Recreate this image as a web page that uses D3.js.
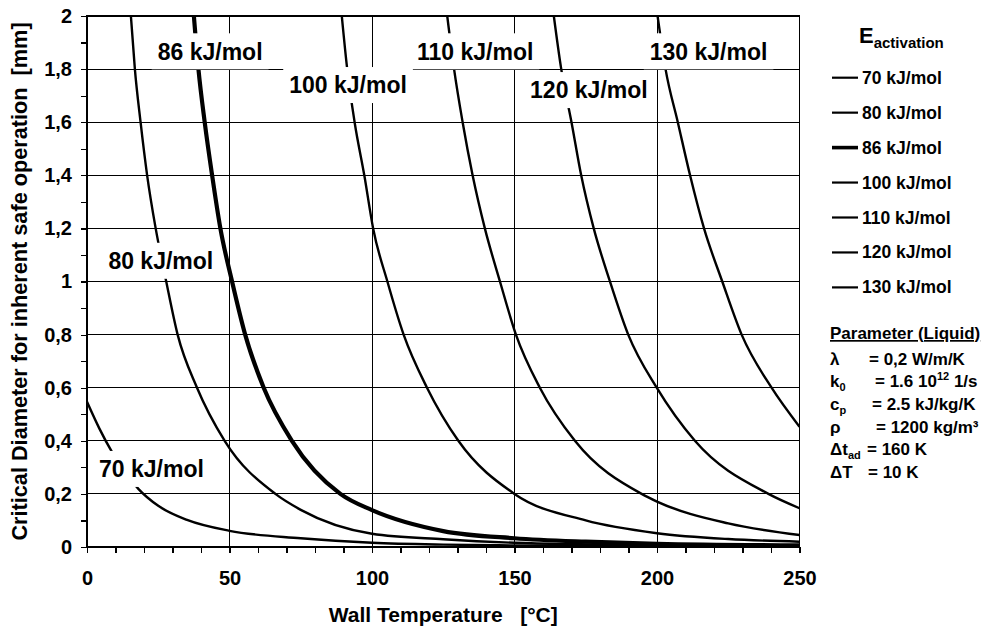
<!DOCTYPE html>
<html><head><meta charset="utf-8">
<script src="https://cdn.jsdelivr.net/npm/d3@7"></script>
<style>
body{margin:0;background:#fff}
text{font-family:"Liberation Sans",Arial,Helvetica,sans-serif;font-weight:bold;fill:#000}
</style>
</head><body>
<svg id="chart" width="987" height="630"></svg>
<script>
// ---------- data ----------
const energies = ["70 kJ/mol","80 kJ/mol","86 kJ/mol","100 kJ/mol","110 kJ/mol","120 kJ/mol","130 kJ/mol"];

const t70 = [0, 4.4, 8.8, 18.1, 25, 35.1, 50, 75, 100, 125, 150, 200, 250];
const d70 = [0.547, 0.445, 0.357, 0.218, 0.155, 0.102, 0.061, 0.033, 0.016, 0.009, 0.006, 0.003, 0.002];

const t80 = [15.4, 16.8, 18.8, 21.1, 24.1, 27.8, 31.8, 38.6, 48.3, 66.1, 75, 100, 125, 150, 200, 250];
const d80 = [2, 1.8, 1.6, 1.4, 1.2, 1.0, 0.8, 0.6, 0.4, 0.2, 0.14, 0.05, 0.029, 0.016, 0.007, 0.004];

const t86 = [37.5, 39.1, 41.3, 43.9, 46.8, 50.9, 55.5, 62, 71.9, 88.9, 100, 125, 150, 175, 200, 250];
const d86 = [2, 1.8, 1.6, 1.4, 1.2, 1.0, 0.8, 0.6, 0.4, 0.2, 0.139, 0.06, 0.033, 0.02, 0.012, 0.006];

const t100 = [89.4, 91.3, 93.9, 97.3, 100.4, 105.4, 111.1, 119.3, 130.3, 150, 175, 200, 225, 250];
const d100 = [2, 1.8, 1.6, 1.4, 1.2, 1.0, 0.8, 0.6, 0.4, 0.2, 0.1, 0.052, 0.03, 0.02];

const t110 = [126.4, 128.8, 131.8, 135.3, 139.6, 144.9, 150.5, 158.9, 171.2, 194.6, 200, 225, 250];
const d110 = [2, 1.8, 1.6, 1.4, 1.2, 1.0, 0.8, 0.6, 0.4, 0.2, 0.171, 0.089, 0.045];

const t120 = [163.8, 166.4, 170, 173.4, 177.8, 183.5, 189.9, 199.9, 213.3, 239.1, 250];
const d120 = [2, 1.8, 1.6, 1.4, 1.2, 1.0, 0.8, 0.6, 0.4, 0.2, 0.146];

const t130 = [200.2, 203, 207.3, 211.6, 216.5, 222.9, 229.7, 240.2, 250];
const d130 = [2, 1.8, 1.6, 1.4, 1.2, 1.0, 0.8, 0.6, 0.453];

const seriesT = [t70, t80, t86, t100, t110, t120, t130];
const seriesD = [d70, d80, d86, d100, d110, d120, d130];

const xTickValues = [0, 50, 100, 150, 200, 250];
const xTickLabels = ["0", "50", "100", "150", "200", "250"];
const yTickValues = [0, 0.2, 0.4, 0.6, 0.8, 1.0, 1.2, 1.4, 1.6, 1.8, 2.0];
const yTickLabels = ["0", "0,2", "0,4", "0,6", "0,8", "1", "1,2", "1,4", "1,6", "1,8", "2"];

const xTitle = "Wall Temperature   [°C]";
const yTitle = "Critical Diameter for inherent safe operation  [mm]";
const legendTitle = "E";
const legendTitleSub = "activation";

const paramHeader = "Parameter (Liquid)";
const paramSymbols = ["λ", "k", "c", "ρ", "Δt", "ΔT"];
const paramSubs = ["", "0", "p", "", "ad", ""];
const paramValues = ["= 0,2 W/m/K", "= 1.6 10", "= 2.5 kJ/kg/K", "= 1200 kg/m³", "= 160 K", "= 10 K"];
const paramSups = ["", "12", "", "", "", ""];
const paramTails = ["", " 1/s", "", "", "", ""];

// ---------- layout (positions of labels in chart coordinates) ----------
const labelAt = [[22.6, 0.294], [25.9, 1.078], [43.2, 1.867], [91.6, 1.74], [136.2, 1.867], [176.1, 1.721], [218.1, 1.867]];
const paramValueX = [869, 875, 872, 876, 867, 868];

// ---------- drawing ----------
const svg = d3.select("#chart");
const x = d3.scaleLinear().domain([0, 250]).range([87, 799.5]);
const y = d3.scaleLinear().domain([0, 2]).range([547, 16]);

svg.append("defs").append("clipPath").attr("id", "plotclip")
  .append("rect").attr("x", x(0)).attr("y", y(2)).attr("width", x(250) - x(0)).attr("height", y(0) - y(2));

// grid
const grid = svg.append("g").attr("stroke", "#000").attr("stroke-width", 1).attr("shape-rendering", "crispEdges");
grid.selectAll("line.v").data(xTickValues.filter(v => v > 0 && v < 250)).join("line").attr("class","v")
  .attr("x1", d => x(d)).attr("x2", d => x(d)).attr("y1", y(0)).attr("y2", y(2));
grid.selectAll("line.h").data(yTickValues.filter(v => v > 0 && v < 2)).join("line").attr("class","h")
  .attr("x1", x(0)).attr("x2", x(250)).attr("y1", d => y(d)).attr("y2", d => y(d));

// curves
const line = d3.line().x(p => x(p[0])).y(p => y(p[1])).curve(d3.curveMonotoneX);
const curves = svg.append("g").attr("clip-path", "url(#plotclip)");
seriesT.forEach((ts, i) => {
  const pts = ts.map((t, k) => [t, seriesD[i][k]]);
  curves.append("path").datum(pts).attr("d", line)
    .attr("fill", "none").attr("stroke", "#000")
    .attr("stroke-width", i === 2 ? 4.2 : 2.4).attr("stroke-linejoin", "round");
});

// curve labels with white boxes
const labFs = 23;
const labs = svg.append("g");
energies.forEach((e, i) => {
  const cx = x(labelAt[i][0]), cy = y(labelAt[i][1]);
  const g = labs.append("g");
  const rect = g.append("rect").attr("fill", "#fff");
  const t = g.append("text").attr("x", cx).attr("y", cy + labFs * 0.36)
    .attr("text-anchor", "middle").attr("font-size", labFs).text(e);
  const bb = t.node().getBBox();
  rect.attr("x", bb.x - 6).attr("y", cy - 18).attr("width", bb.width + 12).attr("height", 36);
});

// border
svg.append("rect").attr("x", x(0)).attr("y", y(2)).attr("width", x(250) - x(0)).attr("height", y(0) - y(2))
  .attr("fill", "none").attr("stroke", "#000").attr("stroke-width", 1.2).attr("shape-rendering", "crispEdges");

// axes
const xAxis = d3.axisBottom(x).tickValues(d3.range(0, 251, 10)).tickSize(6).tickSizeOuter(0).tickPadding(18)
  .tickFormat(d => { const k = xTickValues.indexOf(d); return k >= 0 ? xTickLabels[k] : ""; });
const gx = svg.append("g").attr("transform", `translate(0,${y(0)})`).call(xAxis);
const yAxis = d3.axisLeft(y).tickValues(d3.range(0, 21).map(k => k / 10)).tickSize(6).tickSizeOuter(0).tickPadding(9)
  .tickFormat(d => { const k = yTickValues.findIndex(v => Math.abs(v - d) < 1e-9); return k >= 0 ? yTickLabels[k] : ""; });
const gy = svg.append("g").attr("transform", `translate(${x(0)},0)`).call(yAxis);
[gx, gy].forEach(g => {
  g.selectAll("path,line").attr("stroke", "#000").attr("stroke-width", 1.2).attr("shape-rendering", "crispEdges");
  g.selectAll("text").attr("font-size", 20).attr("font-family", null).attr("fill", "#000");
});

// axis titles
svg.append("text").attr("x", (x(0) + x(250)) / 2).attr("y", 622).attr("text-anchor", "middle")
  .attr("font-size", 21).style("white-space", "pre").text(xTitle);
svg.append("text").attr("transform", `translate(27,${(y(0) + y(2)) / 2}) rotate(-90)`).attr("text-anchor", "middle")
  .attr("font-size", 21.7).style("white-space", "pre").text(yTitle);

// legend
const lt = svg.append("text").attr("x", 859).attr("y", 43);
lt.append("tspan").attr("font-size", 22).text(legendTitle);
lt.append("tspan").attr("font-size", 15).attr("dy", 5).text(legendTitleSub);
energies.forEach((e, i) => {
  const ly = 77.7 + i * 34.95;
  svg.append("line").attr("x1", 832).attr("x2", 858).attr("y1", ly).attr("y2", ly)
    .attr("stroke", "#000").attr("stroke-width", i === 2 ? 3.6 : 2.2);
  svg.append("text").attr("x", 862).attr("y", ly + 6).attr("font-size", 17.5).text(e);
});

// parameter block
svg.append("text").attr("x", 830).attr("y", 339).attr("font-size", 17).attr("text-decoration", "underline").text(paramHeader);
paramSymbols.forEach((s, i) => {
  const by = 364.5 + i * 22.7;
  const t = svg.append("text").attr("x", 830).attr("y", by).attr("font-size", 17).style("white-space", "pre");
  t.append("tspan").text(s);
  if (paramSubs[i]) t.append("tspan").attr("font-size", 11).attr("dy", 4).text(paramSubs[i]);
  t.append("tspan").attr("x", paramValueX[i]).attr("y", by).text(paramValues[i]);
  if (paramSups[i]) t.append("tspan").attr("font-size", 11).attr("dy", -7).text(paramSups[i]);
  if (paramTails[i]) t.append("tspan").attr("y", by).text(paramTails[i]);
});
</script>
</body></html>
